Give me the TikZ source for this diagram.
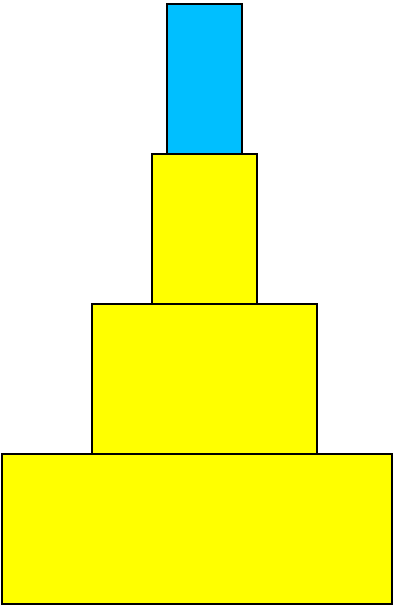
\documentclass[tikz,border=0pt]{standalone}
\definecolor{skyb}{RGB}{0,191,255}
\definecolor{yel}{RGB}{255,255,0}
\begin{document}
\begin{tikzpicture}[x=1pt,y=-1pt,
  tier/.style={draw=black,line width=1.5pt,inner sep=0pt,outer sep=0pt,anchor=north west},
  ytier/.style={tier,fill=yel},
  btier/.style={tier,fill=skyb}]
\useasboundingbox (0,0) rectangle (393,606);
\node[btier,minimum width=75pt,minimum height=150pt] (top) at (167,4) {};
\node[ytier,minimum width=105pt,minimum height=150pt] (t2) at (152,154) {};
\node[ytier,minimum width=225pt,minimum height=150pt] (t3) at (92,304) {};
\node[ytier,minimum width=390pt,minimum height=150pt] (t4) at (2,454) {};
\end{tikzpicture}
\end{document}
